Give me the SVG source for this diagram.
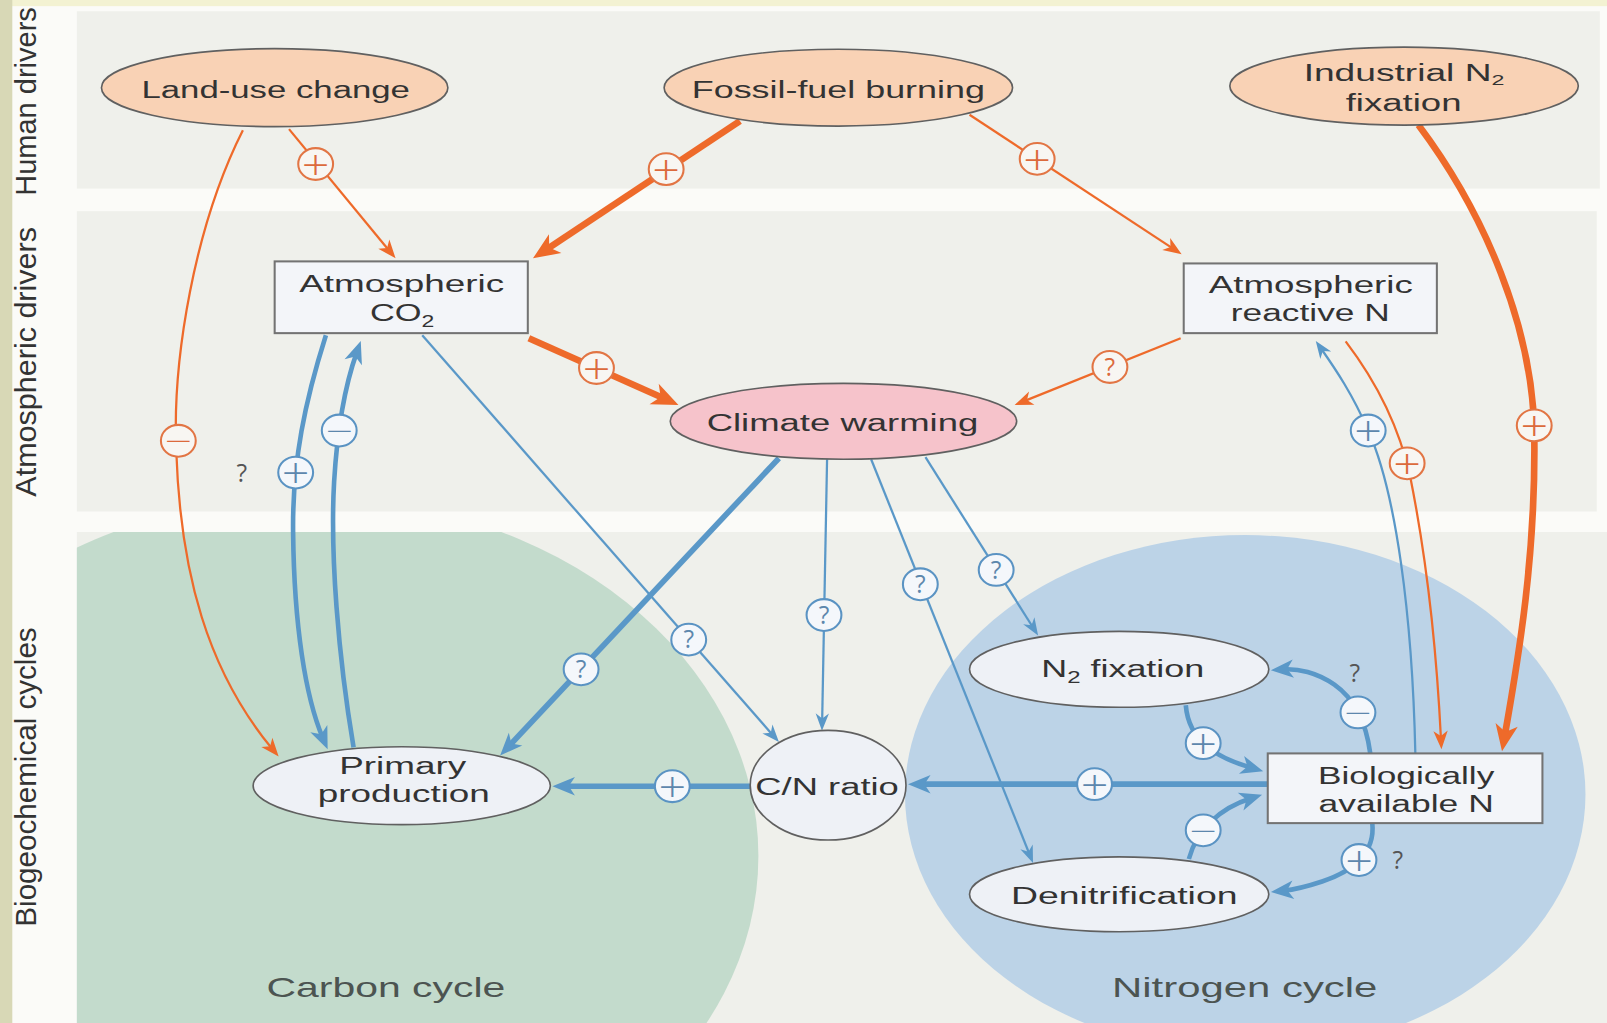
<svg xmlns="http://www.w3.org/2000/svg" width="1607" height="1023" viewBox="0 0 1607 1023">
<defs>
<style>
text{font-family:"Liberation Sans",Arial,sans-serif;}
.t{font-size:24px;fill:#333333;text-anchor:middle;}
.ts{font-size:24px;fill:#333333;}
.side{font-size:28px;fill:#333333;text-anchor:middle;}
.reg{font-size:27px;fill:#4c5451;text-anchor:middle;}
.peach{fill:#f9d2b5;stroke:#606060;stroke-width:1.6;}
.warm{fill:#f6c3cb;stroke:#606060;stroke-width:1.6;}
.pale{fill:#eef1f6;stroke:#606060;stroke-width:1.6;}
.box{fill:#f3f5f9;stroke:#737373;stroke-width:2;}
.o{fill:none;stroke:#ee6a2a;}
.b{fill:none;stroke:#5a98c8;}
.w2{stroke-width:2.2;}
.w4{stroke-width:4.5;}
.w5{stroke-width:5.5;}
.w6{stroke-width:6.5;}
.so{fill:#f8f6f2;stroke:#e27544;stroke-width:2;}
.sb{fill:#f4f7fb;stroke:#5a93c3;stroke-width:2;}
.go{font-family:"Open Sans","Liberation Sans",sans-serif;font-size:42px;font-weight:300;fill:#dc6a3c;text-anchor:middle;}
.gb{font-family:"Open Sans","Liberation Sans",sans-serif;font-size:42px;font-weight:300;fill:#5d87ad;text-anchor:middle;}
.mo{font-family:"Open Sans","Liberation Sans",sans-serif;font-size:30px;font-weight:300;fill:#dc6a3c;text-anchor:middle;}
.mb{font-family:"Open Sans","Liberation Sans",sans-serif;font-size:30px;font-weight:300;fill:#5d87ad;text-anchor:middle;}
.qo{font-family:"Open Sans","Liberation Sans",sans-serif;font-size:24px;fill:#dc6a3c;text-anchor:middle;}
.qb{font-family:"Open Sans","Liberation Sans",sans-serif;font-size:24px;fill:#5d87ad;text-anchor:middle;}
.qt{font-family:"Open Sans","Liberation Sans",sans-serif;font-size:24px;fill:#555555;text-anchor:middle;}
</style>
<marker id="aoL" markerUnits="userSpaceOnUse" markerWidth="28" markerHeight="24" refX="12" refY="11" orient="auto" overflow="visible"><path d="M0,0 L26,11 L0,22 L7,11 z" fill="#ee6a2a"/></marker>
<marker id="aoS" markerUnits="userSpaceOnUse" markerWidth="20" markerHeight="16" refX="8" refY="7" orient="auto" overflow="visible"><path d="M0,0 L18,7 L0,14 L5,7 z" fill="#ee6a2a"/></marker>
<marker id="abL" markerUnits="userSpaceOnUse" markerWidth="24" markerHeight="20" refX="10" refY="9" orient="auto" overflow="visible"><path d="M0,0 L22,9 L0,18 L6,9 z" fill="#5a98c8"/></marker>
<marker id="abS" markerUnits="userSpaceOnUse" markerWidth="19" markerHeight="15" refX="8" refY="6.5" orient="auto" overflow="visible"><path d="M0,0 L17,6.5 L0,13 L5,6.5 z" fill="#5a98c8"/></marker>
<clipPath id="p3"><rect x="75" y="519" width="1493" height="479"/></clipPath>
</defs>
<rect width="1607" height="1023" fill="#fbfbf8"/>
<g transform="scale(1.02487 1.02505)">
<g id="background">
<rect x="0" y="0" width="1568" height="6" fill="#f3f2d2"/>
<rect x="0" y="0" width="12" height="998" fill="#d8d8b6"/>
<rect x="75" y="11" width="1486" height="173" fill="#eff0eb"/>
<rect x="75" y="206" width="1483" height="293" fill="#eff0eb"/>
<rect x="75" y="519" width="1493" height="479" fill="#eff0eb"/>
<g clip-path="url(#p3)">
<ellipse cx="300" cy="835" rx="440" ry="350" fill="#c3dbcc"/>
<ellipse cx="1215" cy="775" rx="332" ry="253" fill="#bcd3e7"/>
</g>
<text class="side" transform="translate(35,99) rotate(-90)" textLength="184" lengthAdjust="spacingAndGlyphs">Human drivers</text>
<text class="side" transform="translate(35,353) rotate(-90)" textLength="263" lengthAdjust="spacingAndGlyphs">Atmospheric drivers</text>
<text class="side" transform="translate(35,758) rotate(-90)" textLength="292" lengthAdjust="spacingAndGlyphs">Biogeochemical cycles</text>
<text class="reg" x="376.5" y="972.5" textLength="233" lengthAdjust="spacingAndGlyphs">Carbon cycle</text>
<text class="reg" x="1214.5" y="972.5" textLength="259" lengthAdjust="spacingAndGlyphs">Nitrogen cycle</text>
</g>
<g id="connectors">
<path class="o w2" d="M282,126 L379.6,244.3" marker-end="url(#aoS)"/>
<path class="o w2" d="M237,127 C190,220 168,350 172,440 C176,560 203,655 265.5,730.4" marker-end="url(#aoS)"/>
<path class="o w6" d="M722,118 L531.7,244.3" marker-end="url(#aoL)"/>
<path class="o w2" d="M946,112 L1144.6,242.5" marker-end="url(#aoS)"/>
<path class="o w6" d="M1384,122 C1450,210 1495,320 1497,420 C1499,540 1482,640 1468,719" marker-end="url(#aoL)"/>
<path class="o w6" d="M516,330 L649.2,389.3" marker-end="url(#aoL)"/>
<path class="o w2" d="M1152,330 L999.3,391.3" marker-end="url(#aoS)"/>
<path class="o w2" d="M1313,333 C1345,375 1366,420 1376,465 C1392,545 1402,640 1406,721" marker-end="url(#aoS)"/>
<path class="b w4" d="M318,327 C298,390 285,450 286,520 C287,610 298,680 315,720" marker-end="url(#abL)"/>
<path class="b w4" d="M345,729 C330,640 322,540 326,470 C329,420 337,375 348,344" marker-end="url(#abL)"/>
<path class="b w2" d="M412,327 L754.1,717.2" marker-end="url(#abS)"/>
<path class="b w5" d="M760,447 L496.2,728.3" marker-end="url(#abL)"/>
<path class="b w2" d="M807,448 L802.2,704" marker-end="url(#abS)"/>
<path class="b w2" d="M850,448 L1004.6,833.6" marker-end="url(#abS)"/>
<path class="b w2" d="M903,446 L1008.1,612.4" marker-end="url(#abS)"/>
<path class="b w5" d="M1237,765 L898,765" marker-end="url(#abL)"/>
<path class="b w5" d="M732,767 L551,767" marker-end="url(#abL)"/>
<path class="b w2" d="M1381,735 C1378,600 1362,480 1335,420 C1320,385 1303,360 1289,340" marker-end="url(#abS)"/>
<path class="b w4" d="M1157,688 C1160,725 1190,740 1221,749" marker-end="url(#abL)"/>
<path class="b w4" d="M1337,735 C1333,705 1322,682 1302,668 C1285,656 1266,652 1252,653" marker-end="url(#abL)"/>
<path class="b w4" d="M1160,838 C1168,808 1192,788 1220,779" marker-end="url(#abL)"/>
<path class="b w4" d="M1339,803 C1342,832 1320,850 1290,860 C1272,866 1262,868 1252,869" marker-end="url(#abL)"/>
<g id="signs">
<ellipse class="so" cx="308" cy="160" rx="17" ry="15.5"/><text class="go" x="308" y="175.5" textLength="27" lengthAdjust="spacingAndGlyphs">+</text>
<ellipse class="so" cx="174" cy="430" rx="17" ry="15.5"/><text class="mo" x="174" y="441" textLength="27" lengthAdjust="spacingAndGlyphs">−</text>
<ellipse class="so" cx="650" cy="165" rx="17" ry="15.5"/><text class="go" x="650" y="180.5" textLength="27" lengthAdjust="spacingAndGlyphs">+</text>
<ellipse class="so" cx="1012" cy="155" rx="17" ry="15.5"/><text class="go" x="1012" y="170.5" textLength="27" lengthAdjust="spacingAndGlyphs">+</text>
<ellipse class="so" cx="1497" cy="415" rx="17" ry="15.5"/><text class="go" x="1497" y="430.5" textLength="27" lengthAdjust="spacingAndGlyphs">+</text>
<ellipse class="so" cx="582" cy="359" rx="17" ry="15.5"/><text class="go" x="582" y="374.5" textLength="27" lengthAdjust="spacingAndGlyphs">+</text>
<ellipse class="so" cx="1083" cy="358" rx="17" ry="15.5"/><text class="qo" x="1083" y="366.5">?</text>
<ellipse class="so" cx="1373" cy="452" rx="17" ry="15.5"/><text class="go" x="1373" y="467.5" textLength="27" lengthAdjust="spacingAndGlyphs">+</text>
<ellipse class="sb" cx="288.5" cy="461" rx="17" ry="15.5"/><text class="gb" x="288.5" y="476.5" textLength="27" lengthAdjust="spacingAndGlyphs">+</text>
<text class="qt" x="236" y="470">?</text>
<ellipse class="sb" cx="331" cy="420" rx="17" ry="15.5"/><text class="mb" x="331" y="431" textLength="27" lengthAdjust="spacingAndGlyphs">−</text>
<ellipse class="sb" cx="672" cy="624" rx="17" ry="15.5"/><text class="qb" x="672" y="632.5">?</text>
<ellipse class="sb" cx="567" cy="653" rx="17" ry="15.5"/><text class="qb" x="567" y="661.5">?</text>
<ellipse class="sb" cx="804" cy="600" rx="17" ry="15.5"/><text class="qb" x="804" y="608.5">?</text>
<ellipse class="sb" cx="898" cy="570" rx="17" ry="15.5"/><text class="qb" x="898" y="578.5">?</text>
<ellipse class="sb" cx="972" cy="556" rx="17" ry="15.5"/><text class="qb" x="972" y="564.5">?</text>
<ellipse class="sb" cx="1068" cy="765" rx="17" ry="15.5"/><text class="gb" x="1068" y="780.5" textLength="27" lengthAdjust="spacingAndGlyphs">+</text>
<ellipse class="sb" cx="656" cy="767" rx="17" ry="15.5"/><text class="gb" x="656" y="782.5" textLength="27" lengthAdjust="spacingAndGlyphs">+</text>
<ellipse class="sb" cx="1335" cy="420" rx="17" ry="15.5"/><text class="gb" x="1335" y="435.5" textLength="27" lengthAdjust="spacingAndGlyphs">+</text>
<ellipse class="sb" cx="1174" cy="725" rx="17" ry="15.5"/><text class="gb" x="1174" y="740.5" textLength="27" lengthAdjust="spacingAndGlyphs">+</text>
<ellipse class="sb" cx="1325" cy="695" rx="17" ry="15.5"/><text class="mb" x="1325" y="706" textLength="27" lengthAdjust="spacingAndGlyphs">−</text>
<text class="qt" x="1322" y="665">?</text>
<ellipse class="sb" cx="1174" cy="810" rx="17" ry="15.5"/><text class="mb" x="1174" y="821" textLength="27" lengthAdjust="spacingAndGlyphs">−</text>
<ellipse class="sb" cx="1326" cy="839" rx="17" ry="15.5"/><text class="gb" x="1326" y="854.5" textLength="27" lengthAdjust="spacingAndGlyphs">+</text>
<text class="qt" x="1364" y="848">?</text>
</g>
</g>
<g id="land-use"><ellipse class="peach" cx="268" cy="85.5" rx="169" ry="38"/><text class="t" x="269" y="96" textLength="262" lengthAdjust="spacingAndGlyphs">Land-use change</text></g>
<g id="fossil-fuel"><ellipse class="peach" cx="818" cy="85.5" rx="170" ry="37.5"/><text class="t" x="818" y="96" textLength="286" lengthAdjust="spacingAndGlyphs">Fossil-fuel burning</text></g>
<g id="industrial-n2"><ellipse class="peach" cx="1370" cy="84" rx="170" ry="38"/><g transform="translate(1272,79) scale(1.51,1)"><text class="ts">Industrial N<tspan dy="4" font-size="15">2</tspan></text></g><text class="t" x="1369.5" y="108" textLength="113" lengthAdjust="spacingAndGlyphs">fixation</text></g>
<g id="atm-co2"><rect class="box" x="268" y="255" width="247" height="70"/><text class="t" x="392" y="285" textLength="200" lengthAdjust="spacingAndGlyphs">Atmospheric</text><g transform="translate(361,313) scale(1.4,1)"><text class="ts">CO<tspan dy="6" font-size="16">2</tspan></text></g></g>
<g id="atm-reactive-n"><rect class="box" x="1155" y="257" width="247" height="68"/><text class="t" x="1279" y="286" textLength="199" lengthAdjust="spacingAndGlyphs">Atmospheric</text><text class="t" x="1278.5" y="313" textLength="155" lengthAdjust="spacingAndGlyphs">reactive N</text></g>
<g id="climate-warming"><ellipse class="warm" cx="823" cy="411" rx="169" ry="37"/><text class="t" x="822" y="420" textLength="265" lengthAdjust="spacingAndGlyphs">Climate warming</text></g>
<g id="n2-fixation"><ellipse class="pale" cx="1092" cy="653" rx="146" ry="37"/><g transform="translate(1016,660) scale(1.46,1)"><text class="ts">N<tspan dy="6" font-size="16">2</tspan><tspan dy="-6"> fixation</tspan></text></g></g>
<g id="primary-production"><ellipse class="pale" cx="392" cy="766.5" rx="145" ry="38"/><text class="t" x="393" y="755" textLength="124" lengthAdjust="spacingAndGlyphs">Primary</text><text class="t" x="394" y="782" textLength="168" lengthAdjust="spacingAndGlyphs">production</text></g>
<g id="cn-ratio"><ellipse class="pale" cx="808" cy="766" rx="76" ry="53.5"/><text class="t" x="807" y="776" textLength="140" lengthAdjust="spacingAndGlyphs">C/N ratio</text></g>
<g id="bio-available-n"><rect class="box" x="1237" y="735" width="268" height="68"/><text class="t" x="1372" y="765" textLength="172" lengthAdjust="spacingAndGlyphs">Biologically</text><text class="t" x="1372" y="792" textLength="171" lengthAdjust="spacingAndGlyphs">available N</text></g>
<g id="denitrification"><ellipse class="pale" cx="1092" cy="872.5" rx="146" ry="36.5"/><text class="t" x="1097" y="882" textLength="221" lengthAdjust="spacingAndGlyphs">Denitrification</text></g>
</g>
</svg>
